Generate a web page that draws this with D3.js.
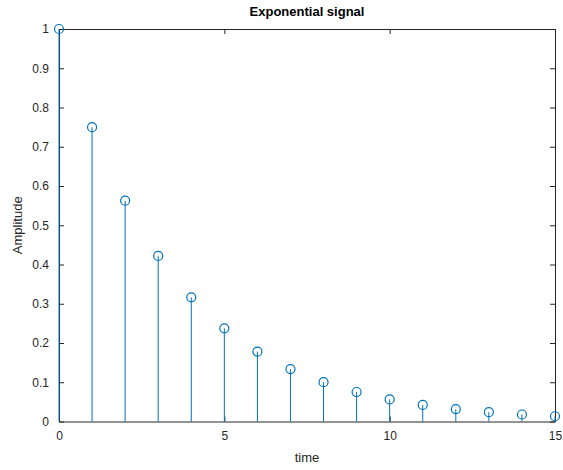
<!DOCTYPE html>
<html>
<head>
<meta charset="utf-8">
<script src="https://cdn.jsdelivr.net/npm/d3@7"></script>
<style>
  body { margin: 0; background: #fff; }
  text { font-family: "Liberation Sans", Arial, sans-serif; }
</style>
</head>
<body>
<svg id="chart" width="563" height="470"></svg>
<script>
// stem values
var times = [0, 1, 2, 3, 4, 5, 6, 7, 8, 9, 10, 11, 12, 13, 14, 15];
var amplitude = [1, 0.75, 0.5625, 0.4219, 0.3164, 0.2373, 0.178, 0.1335, 0.1001, 0.0751,
                 0.0563, 0.0422, 0.0317, 0.0238, 0.0178, 0.0134];
var xTicks = [0, 5, 10, 15];
var yTicks = [0, 0.1, 0.2, 0.3, 0.4, 0.5, 0.6, 0.7, 0.8, 0.9, 1];

var svg = d3.select("#chart");
var plotLeft = 59, plotTop = 29, plotRight = 555, plotBottom = 421.5;
var width = plotRight - plotLeft, height = plotBottom - plotTop;
var axisColor = "#262626", stemColor = "#0072BD";

var x = d3.scaleLinear().domain([0, 15]).range([0, width]);
var y = d3.scaleLinear().domain([0, 1]).range([height, 0]);

var g = svg.append("g").attr("transform", "translate(" + plotLeft + "," + plotTop + ")");

// axes
function styleAxis(sel) {
  sel.selectAll("path").attr("stroke", axisColor);
  sel.selectAll("line").attr("stroke", axisColor);
  sel.selectAll("text").attr("fill", axisColor).style("font-size", "12px");
}

g.append("g")
  .attr("transform", "translate(0," + height + ")")
  .call(d3.axisBottom(x).tickValues(xTicks).tickSize(-5).tickSizeOuter(0).tickPadding(10).tickFormat(d3.format("d")))
  .call(styleAxis);

g.append("g")
  .call(d3.axisTop(x).tickValues(xTicks).tickSize(-5).tickSizeOuter(0).tickFormat(""))
  .call(styleAxis);

g.append("g")
  .call(d3.axisLeft(y).tickValues(yTicks).tickSize(-5).tickSizeOuter(0).tickPadding(10).tickFormat(function(d) { return d3.format("~g")(d); }))
  .call(styleAxis);

g.append("g")
  .attr("transform", "translate(" + width + ",0)")
  .call(d3.axisRight(y).tickValues(yTicks).tickSize(-5).tickSizeOuter(0).tickFormat(""))
  .call(styleAxis);

// stems, drawn over the axes like the reference
g.selectAll("line.stem")
  .data(times)
  .enter().append("line")
    .attr("class", "stem")
    .attr("x1", function(d) { return x(d); })
    .attr("x2", function(d) { return x(d); })
    .attr("y1", y(0))
    .attr("y2", function(d, i) { return y(amplitude[i]); })
    .attr("stroke", stemColor)
    .attr("stroke-width", 1);

// markers
g.selectAll("circle")
  .data(times)
  .enter().append("circle")
    .attr("cx", function(d) { return x(d); })
    .attr("cy", function(d, i) { return y(amplitude[i]); })
    .attr("r", 4.5)
    .attr("fill", "none")
    .attr("stroke", stemColor)
    .attr("stroke-width", 1.2);

// labels
svg.append("text")
  .attr("x", plotLeft + width / 2)
  .attr("y", 16)
  .attr("text-anchor", "middle")
  .style("font-size", "13px")
  .style("font-weight", "bold")
  .attr("fill", "#000")
  .text("Exponential signal");

svg.append("text")
  .attr("x", plotLeft + width / 2)
  .attr("y", 462)
  .attr("text-anchor", "middle")
  .style("font-size", "13px")
  .attr("fill", axisColor)
  .text("time");

svg.append("g")
  .attr("transform", "translate(22," + (plotTop + height / 2) + ")")
  .append("text")
  .attr("text-anchor", "middle")
  .attr("transform", "rotate(-90)")
  .style("font-size", "13px")
  .attr("fill", axisColor)
  .text("Amplitude");
</script>
</body>
</html>
